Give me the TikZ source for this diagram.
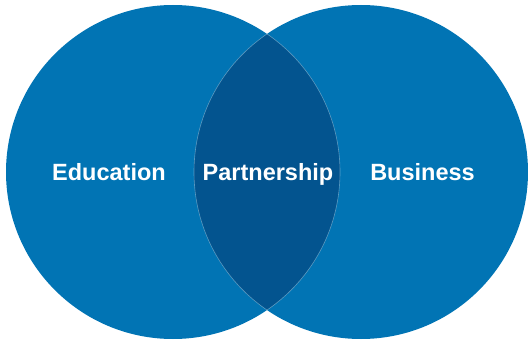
\documentclass[tikz,border=0pt]{standalone}
\usepackage{fontspec}
\setmainfont{Liberation Sans}
\definecolor{circblue}{HTML}{0174B4}
\definecolor{lensblue}{HTML}{03548F}
\begin{document}
\begin{tikzpicture}[x=1pt,y=1pt,
  lbl/.style={text=white,font=\fontsize{23.5}{28}\selectfont\bfseries,anchor=base,inner sep=0pt}]
\useasboundingbox (0,0) rectangle (528,341);
\fill[circblue] (173,169) circle (167);
\fill[circblue] (361,169) circle (167);
\begin{scope}
  \clip (173,169) circle (167);
  \fill[lensblue] (361,169) circle (167);
  \draw[white,opacity=0.35,line width=0.6pt] (361,169) circle (167);
\end{scope}
\begin{scope}
  \clip (361,169) circle (167);
  \draw[white,opacity=0.35,line width=0.6pt] (173,169) circle (167);
\end{scope}
\node[lbl] (edu) at (109,161) {Education};
\node[lbl] (par) at (268,161) {Partnership};
\node[lbl] (bus) at (422.5,161) {Business};
\end{tikzpicture}
\end{document}
